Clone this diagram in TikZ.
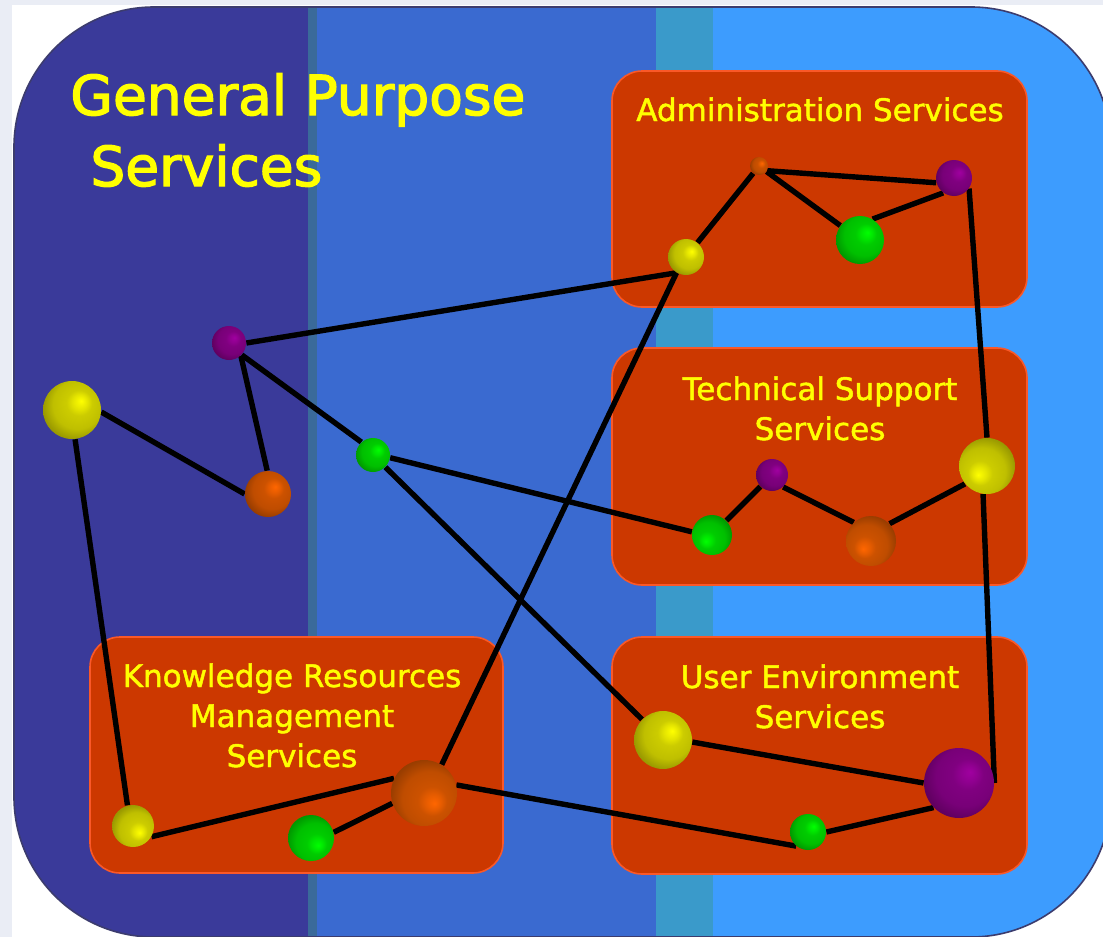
\documentclass[tikz,border=0pt]{standalone}
\usepackage{fontspec}
\setmainfont{DejaVu Sans}
\newfontfamily\headfont[FakeBold=2.4]{DejaVu Sans}
\newfontfamily\labelfont[FakeBold=1.5]{DejaVu Sans}
\definecolor{pagegray}{RGB}{234,237,245}
\definecolor{rimline}{RGB}{60,60,110}
\definecolor{darkband}{RGB}{58,58,154}
\definecolor{seamband}{RGB}{58,106,154}
\definecolor{midband}{RGB}{58,106,208}
\definecolor{tealband}{RGB}{58,154,202}
\definecolor{lightband}{RGB}{61,156,254}
\definecolor{boxred}{RGB}{204,56,0}
\definecolor{boxedge}{RGB}{250,88,40}
\definecolor{labelyellow}{RGB}{255,255,0}
\definecolor{ballyellow}{RGB}{255,255,0}
\definecolor{ballgreen}{RGB}{0,255,0}
\definecolor{ballpurple}{RGB}{160,0,160}
\definecolor{ballorange}{RGB}{255,102,0}
\colorlet{ballhue}{ballyellow}
\pgfdeclareradialshading[ballhue]{flatball}{\pgfpoint{8bp}{8bp}}{%
  color(0bp)=(ballhue);
  color(6bp)=(ballhue!90!black);
  color(11bp)=(ballhue!80!black);
  color(21bp)=(ballhue!75!black);
  color(29bp)=(ballhue!60!black);
  color(50bp)=(ballhue!60!black)}
\pgfdeclarelayer{front}
\pgfsetlayers{main,front}

\begin{document}
\begin{tikzpicture}[x=0.5pt,y=-0.5pt,
    orb/.style={circle,inner sep=0pt,minimum size=#1pt,shading=flatball},
    yel/.style={/utils/exec={\colorlet{ballhue}{ballyellow}}},
    grn/.style={/utils/exec={\colorlet{ballhue}{ballgreen}}},
    prp/.style={/utils/exec={\colorlet{ballhue}{ballpurple}}},
    org/.style={/utils/exec={\colorlet{ballhue}{ballorange}}},
    lowleft/.style={shading angle=180},
    lowright/.style={shading angle=-90},
    wire/.style={line width=2.7pt,black},
    svcbox/.style={fill=boxred,draw=boxedge,line width=0.8pt,rounded corners=15pt},
    headtext/.style={text=labelyellow,inner sep=0pt,anchor=base west,
        font=\headfont\fontsize{27.5pt}{35pt}\selectfont},
    boxlabel/.style={text=labelyellow,inner sep=0pt,align=center,anchor=base,
        font=\labelfont\fontsize{15.5pt}{20pt}\selectfont}]
                \useasboundingbox (0,0) rectangle (1103,937);
                \fill[pagegray] (0,0) rectangle (1103,937);
                \fill[white] (12,5) rectangle (1103,937);

                \begin{scope}
                \clip[rounded corners=70pt] (14,7) rectangle (1111,937);
                \fill[darkband] (0,0) rectangle (308,940);
                \fill[seamband] (308,0) rectangle (317,940);
                \fill[midband] (317,0) rectangle (656,940);
                \fill[tealband] (656,0) rectangle (713,940);
                \fill[lightband] (713,0) rectangle (1120,940);
                \end{scope}
                \draw[rimline,line width=0.8pt,rounded corners=70pt] (14,7) rectangle (1111,937);

                \draw[svcbox] (612,71) rectangle (1027,307);
                \draw[svcbox] (612,348) rectangle (1027,585);
                \draw[svcbox] (612,637) rectangle (1027,874);
                \draw[svcbox] (90,637) rectangle (503,873);

                \node[headtext] (gp1) at (70,115) {General Purpose};
                \node[headtext] (gp2) at (90,186) {Services};

                \node[boxlabel] (admlabel) at (820,121) {Administration Services};
                \node[boxlabel] (techlabel) at (820,440) {Technical Support\\Services};
                \node[boxlabel] (userlabel) at (820,728) {User Environment\\Services};
                \node[boxlabel] (knowlabel) at (292,767) {Knowledge Resources\\Management\\Services};

                \begin{pgfonlayer}{front}
                \node[orb=9,org] (A1) at (759,166) {};
                \node[orb=18,prp] (A2) at (954,178) {};
                \node[orb=24,grn] (A3) at (860,240) {};
                \node[orb=18,yel] (A4) at (686,257) {};

                \node[orb=20,grn,lowleft] (T1) at (712,535) {};
                \node[orb=16,prp] (T2) at (772,475) {};
                \node[orb=25,org,lowleft] (T3) at (871,541) {};
                \node[orb=28,yel,lowleft] (T4) at (987,466) {};

                \node[orb=29,yel] (U1) at (663,740) {};
                \node[orb=35,prp] (U2) at (959,783) {};
                \node[orb=18,grn] (U3) at (808,832) {};

                \node[orb=21,yel,lowright] (K1) at (133,826) {};
                \node[orb=23,grn,lowright] (K2) at (311,838) {};
                \node[orb=33,org,lowright] (K3) at (424,793) {};

                \node[orb=17,prp] (F1) at (229,343) {};
                \node[orb=29,yel] (F2) at (72,410) {};
                \node[orb=23,org] (F3) at (268,494) {};
                \node[orb=17,grn] (F4) at (373,455) {};
                \end{pgfonlayer}

                \draw[wire] (A4) -- (A1);
                \draw[wire] (A1.-30) -- (A2.-165);
                \draw[wire] (A1) -- (A3);
                \draw[wire] (A3.59) -- (A2.-126);
                \draw[wire] (A2.-35) -- (T4.north);
                \draw[wire] (T4.-98) -- (U2.east);
                \draw[wire] (A4.-121) -- (F1.east);
                \draw[wire] (A4.-121) -- (K3.58);
                \draw[wire] (F1.-47) -- (F3.92);
                \draw[wire] (F1.-43) -- (F4.132);
                \draw[wire] (F2.-4) -- (F3.west);
                \draw[wire] (F2.-84) -- (K1.105);
                \draw[wire] (F4.-9) -- (T1.171);
                \draw[wire] (F4) -- (U1);
                \draw[wire] (T1) -- (T2);
                \draw[wire] (T2.-47) -- (T3.133);
                \draw[wire] (T3.43) -- (T4.-141);
                \draw[wire] (U1.-4) -- (U2.west);
                \draw[wire] (U2.-136) -- (U3.east);
                \draw[wire] (U3.-130) -- (K3.14);
                \draw[wire] (K3.154) -- (K1.-30);
                \draw[wire] (K3.-162) -- (K2.14);
            \end{tikzpicture}
\end{document}
